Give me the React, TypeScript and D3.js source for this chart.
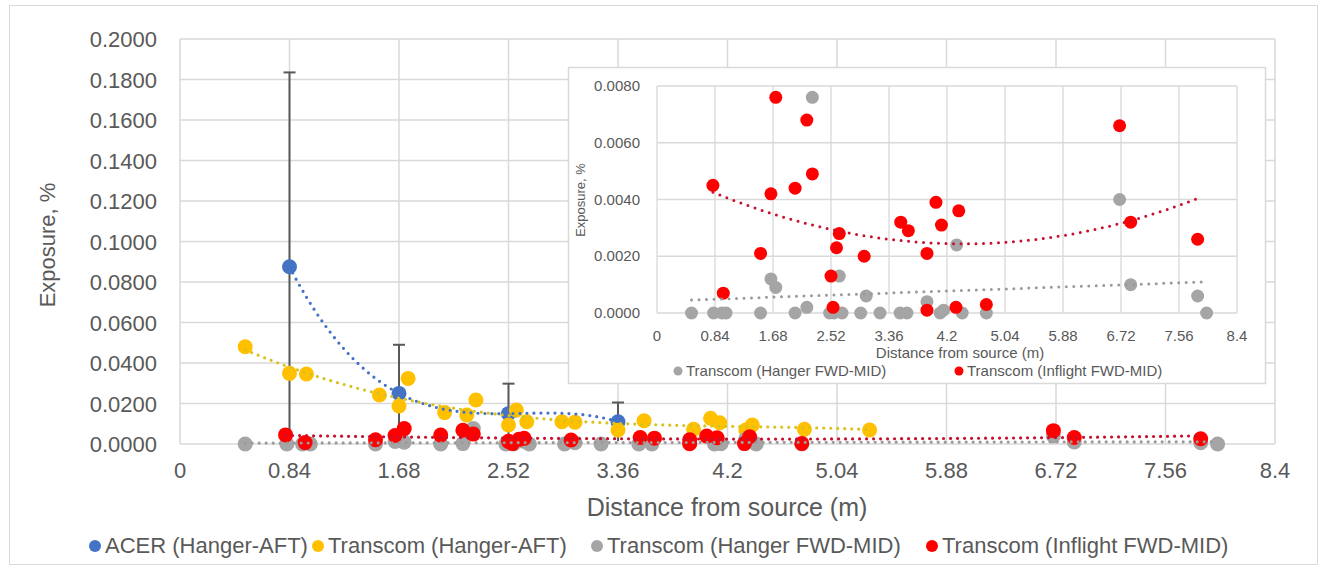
import React from "react";
import * as d3 from "d3";

// ACER (Hanger-AFT), with error bars
const acerX = [0.84, 1.68, 2.52, 3.36];
const acerY = [0.0875, 0.025, 0.015, 0.011];
const acerErr = [0.096, 0.024, 0.0148, 0.0095];

// Transcom (Hanger-AFT)
const aftX = [0.5, 0.84, 0.97, 1.53, 1.68, 1.75, 2.03, 2.2, 2.27, 2.52, 2.58, 2.66, 2.93, 3.03, 3.36, 3.56, 3.94, 4.07, 4.14, 4.34, 4.39, 4.79, 5.29];
const aftY = [0.048, 0.0349, 0.0346, 0.0242, 0.0188, 0.0324, 0.0155, 0.0143, 0.0217, 0.0094, 0.0168, 0.011, 0.011, 0.0108, 0.0069, 0.0115, 0.0073, 0.0127, 0.0105, 0.0069, 0.0094, 0.0073, 0.0069];

// Transcom (Hanger FWD-MID)
const fwdX = [0.5, 0.82, 0.94, 1.0, 1.5, 1.65, 1.72, 2.0, 2.17, 2.25, 2.5, 2.56, 2.64, 2.68, 2.95, 3.03, 3.23, 3.52, 3.62, 3.91, 4.1, 4.15, 4.34, 4.42, 4.77, 6.7, 6.86, 7.83, 7.96];
const fwdY = [0, 0, 0, 0, 0, 0.0012, 0.0009, 0, 0.0002, 0.0076, 0, 0, 0.0013, 0, 0, 0.0006, 0, 0, 0, 0.0004, 0, 0.0001, 0.0024, 0, 0, 0.004, 0.001, 0.0006, 0];

// Transcom (Inflight FWD-MID)
const inflX = [0.81, 0.96, 1.5, 1.65, 1.72, 2.0, 2.17, 2.25, 2.52, 2.55, 2.6, 2.64, 3.0, 3.53, 3.64, 3.91, 3.91, 4.04, 4.12, 4.33, 4.37, 4.77, 6.7, 6.86, 7.83];
const inflY = [0.0045, 0.0007, 0.0021, 0.0042, 0.0076, 0.0044, 0.0068, 0.0049, 0.0013, 0.0002, 0.0023, 0.0028, 0.002, 0.0032, 0.0029, 0.0021, 0.0001, 0.0039, 0.0031, 0.0002, 0.0036, 0.0003, 0.0066, 0.0032, 0.0026];

const xTicks = [0, 0.84, 1.68, 2.52, 3.36, 4.2, 5.04, 5.88, 6.72, 7.56, 8.4];
const xTickLabels = ["0", "0.84", "1.68", "2.52", "3.36", "4.2", "5.04", "5.88", "6.72", "7.56", "8.4"];
const yTicks = [0, 0.02, 0.04, 0.06, 0.08, 0.1, 0.12, 0.14, 0.16, 0.18, 0.2];
const insetYTicks = [0, 0.002, 0.004, 0.006, 0.008];

const seriesNames = ["ACER (Hanger-AFT)", "Transcom (Hanger-AFT)", "Transcom (Hanger FWD-MID)", "Transcom (Inflight FWD-MID)"];
const seriesColors = ["#4472C4", "#FFC000", "#A5A5A5", "#FF0000"];
const trendColors = ["#4472C4", "#D9C21E", "#9A9A9A", "#C8102E"];

const FONT = "'Liberation Sans', Arial, sans-serif";
const TXT = "#595959";
const GRID = "#D9D9D9";

// least squares polynomial trendline
function polyfit(xs: number[], ys: number[], order: number) {
  const n = order + 1;
  const A = Array.from({ length: n }, () => new Array(n + 1).fill(0));
  for (let r = 0; r < n; r++) {
    for (let c = 0; c < n; c++) A[r][c] = d3.sum(xs, (x) => x ** (r + c));
    A[r][n] = d3.sum(xs.map((x, i) => x ** r * ys[i]));
  }
  for (let i = 0; i < n; i++) {
    let p = i;
    for (let k = i + 1; k < n; k++) if (Math.abs(A[k][i]) > Math.abs(A[p][i])) p = k;
    [A[i], A[p]] = [A[p], A[i]];
    for (let k = i + 1; k < n; k++) {
      const f = A[k][i] / A[i][i];
      for (let j = i; j <= n; j++) A[k][j] -= f * A[i][j];
    }
  }
  const coef = new Array(n).fill(0);
  for (let i = n - 1; i >= 0; i--) {
    let s = A[i][n];
    for (let j = i + 1; j < n; j++) s -= A[i][j] * coef[j];
    coef[i] = s / A[i][i];
  }
  return (x: number) => coef.reduce((acc, c, i) => acc + c * x ** i, 0);
}

const series = [
  { xs: acerX, ys: acerY, order: 3 },
  { xs: aftX, ys: aftY, order: 3 },
  { xs: fwdX, ys: fwdY, order: 1 },
  { xs: inflX, ys: inflY, order: 2 },
];

function trendPath(s: { xs: number[]; ys: number[]; order: number }, x: any, y: any) {
  const f = polyfit(s.xs, s.ys, s.order);
  const lo = d3.min(s.xs) as number;
  const hi = d3.max(s.xs) as number;
  const pts = d3.range(0, 101).map((i) => lo + ((hi - lo) * i) / 100);
  return d3
    .line<number>()
    .x((v) => x(v))
    .y((v) => y(f(v)))(pts) as string;
}

const App: React.FC = () => {
  // main chart
  const x = d3.scaleLinear().domain([0, 8.4]).range([180, 1275]);
  const y = d3.scaleLinear().domain([0, 0.2]).range([444, 39]);
  // inset chart
  const ix = d3.scaleLinear().domain([0, 8.4]).range([657, 1237]);
  const iy = d3.scaleLinear().domain([0, 0.008]).range([313, 86]);

  const legendX = [88, 311, 590, 925];
  const insetLegendX = [678, 959];

  return (
    <svg
      width={1327}
      height={572}
      style={{ position: "absolute", left: 0, top: 0, background: "#fff" }}
      fontFamily={FONT}
    >
      <rect x={9.5} y={5.5} width={1308} height={559} fill="#fff" stroke={GRID} />
      <defs>
        <clipPath id="mainClip">
          <rect x={170} y={30} width={1115} height={424} />
        </clipPath>
        <clipPath id="insetClip">
          <rect x={650} y={80} width={594} height={240} />
        </clipPath>
      </defs>

      {/* main grid */}
      {yTicks.map((t) => (
        <line key={"gy" + t} x1={x(0)} x2={x(8.4)} y1={y(t)} y2={y(t)} stroke={GRID} strokeWidth={1.5} />
      ))}
      {xTicks.map((t) => (
        <line key={"gx" + t} x1={x(t)} x2={x(t)} y1={y(0)} y2={y(0.2)} stroke={GRID} strokeWidth={1.5} />
      ))}
      {yTicks.map((t) => (
        <text key={"ly" + t} x={157} y={y(t) + 8} textAnchor="end" fontSize={22} fill={TXT}>
          {t.toFixed(4)}
        </text>
      ))}
      {xTicks.map((t, i) => (
        <text key={"lx" + t} x={x(t)} y={478} textAnchor="middle" fontSize={22} fill={TXT}>
          {xTickLabels[i]}
        </text>
      ))}
      <text transform="translate(55,245) rotate(-90)" textAnchor="middle" fontSize={22} fill={TXT}>
        Exposure, %
      </text>
      <text x={727} y={516} textAnchor="middle" fontSize={25} fill={TXT}>
        Distance from source (m)
      </text>

      {/* main marks */}
      <g clipPath="url(#mainClip)">
        {acerX.map((v, i) => (
          <g key={"eb" + i} stroke="#595959" strokeWidth={2}>
            <line x1={x(v)} x2={x(v)} y1={y(Math.max(0, acerY[i] - acerErr[i]))} y2={y(acerY[i] + acerErr[i])} />
            <line x1={x(v) - 6} x2={x(v) + 6} y1={y(acerY[i] + acerErr[i])} y2={y(acerY[i] + acerErr[i])} />
          </g>
        ))}
        {series.map((s, si) =>
          s.xs.map((v, i) => (
            <circle key={"m" + si + "-" + i} cx={x(v)} cy={y(s.ys[i])} r={7.5} fill={seriesColors[si]} />
          ))
        )}
        {series.map((s, si) => (
          <path
            key={"t" + si}
            d={trendPath(s, x, y)}
            fill="none"
            stroke={trendColors[si]}
            strokeWidth={3.2}
            strokeLinecap="round"
            strokeDasharray="0,7"
          />
        ))}
      </g>

      {/* legend */}
      {seriesNames.map((name, i) => (
        <g key={"lg" + i}>
          <circle cx={legendX[i] + 7} cy={546} r={6} fill={seriesColors[i]} />
          <text x={legendX[i] + 17} y={553} fontSize={22} fill={TXT}>
            {name}
          </text>
        </g>
      ))}

      {/* inset */}
      <rect x={568.5} y={67.5} width={697} height={316} fill="#fff" stroke={GRID} strokeWidth={1.5} />
      {insetYTicks.map((t) => (
        <line key={"igy" + t} x1={ix(0)} x2={ix(8.4)} y1={iy(t)} y2={iy(t)} stroke={GRID} strokeWidth={1.3} />
      ))}
      {xTicks.map((t) => (
        <line key={"igx" + t} x1={ix(t)} x2={ix(t)} y1={iy(0)} y2={iy(0.008)} stroke={GRID} strokeWidth={1.3} />
      ))}
      {insetYTicks.map((t) => (
        <text key={"ily" + t} x={640} y={iy(t) + 5} textAnchor="end" fontSize={15} fill={TXT}>
          {t.toFixed(4)}
        </text>
      ))}
      {xTicks.map((t, i) => (
        <text key={"ilx" + t} x={ix(t)} y={341} textAnchor="middle" fontSize={15} fill={TXT}>
          {xTickLabels[i]}
        </text>
      ))}
      <text transform="translate(585,200) rotate(-90)" textAnchor="middle" fontSize={13} fill={TXT}>
        Exposure, %
      </text>
      <text x={960} y={358} textAnchor="middle" fontSize={15} fill={TXT}>
        Distance from source (m)
      </text>
      <g clipPath="url(#insetClip)">
        {series.slice(2).map((s, k) =>
          s.xs.map((v, i) => (
            <circle key={"im" + k + "-" + i} cx={ix(v)} cy={iy(s.ys[i])} r={6.5} fill={seriesColors[k + 2]} />
          ))
        )}
        {series.slice(2).map((s, k) => (
          <path
            key={"it" + k}
            d={trendPath(s, ix, iy)}
            fill="none"
            stroke={trendColors[k + 2]}
            strokeWidth={3}
            strokeLinecap="round"
            strokeDasharray="0,7.5"
          />
        ))}
      </g>
      {seriesNames.slice(2).map((name, k) => (
        <g key={"ilg" + k}>
          <circle cx={insetLegendX[k]} cy={371} r={4.5} fill={seriesColors[k + 2]} />
          <text x={insetLegendX[k] + 8} y={376} fontSize={15} fill={TXT}>
            {name}
          </text>
        </g>
      ))}
    </svg>
  );
};

export default App;
